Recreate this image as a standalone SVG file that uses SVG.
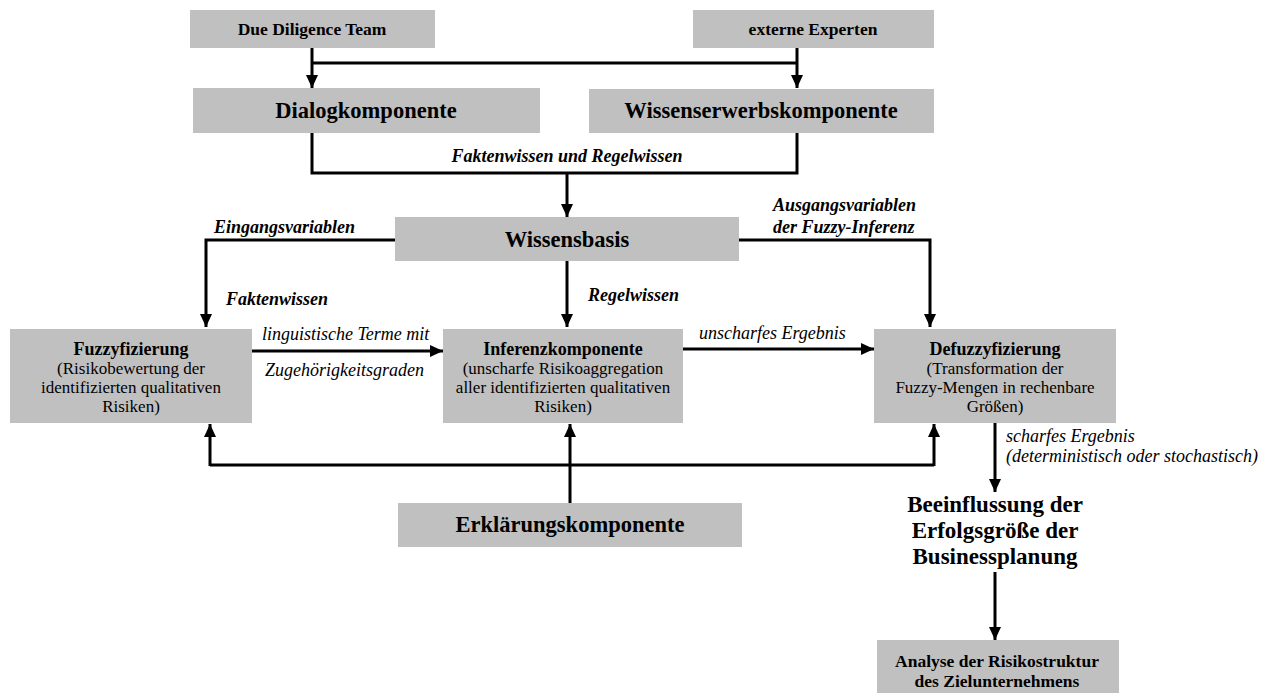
<svg xmlns="http://www.w3.org/2000/svg" width="1272" height="696" viewBox="0 0 1272 696">
<defs>
<marker id="ah" markerWidth="14" markerHeight="14" refX="13" refY="7" orient="auto" markerUnits="userSpaceOnUse">
<path d="M0,1 L13,7 L0,13 Z" fill="#000"/>
</marker>
<style>
.box{fill:#c0c0c0;}
text{font-family:"Liberation Serif","Times New Roman",serif;fill:#000;}
.sb{font-size:17.5px;font-weight:bold;text-anchor:middle;}
.bb{font-size:22.5px;font-weight:bold;text-anchor:middle;}
.bx{font-size:23px;font-weight:bold;text-anchor:middle;}
.tt{font-size:18px;font-weight:bold;text-anchor:middle;}
.rg{font-size:17px;text-anchor:middle;}
.bi{font-size:18px;font-weight:bold;font-style:italic;}
.it{font-size:18px;font-style:italic;}
.ln{fill:none;stroke:#000;stroke-width:3;}
.ar{fill:none;stroke:#000;stroke-width:3;marker-end:url(#ah);}
</style>
</defs>
<rect width="1272" height="696" fill="#fff"/>
<g id="connectors">
<path class="ar" d="M312,48 V88"/>
<path class="ln" d="M312,63 H797"/>
<path class="ar" d="M797,48 V88"/>
<path class="ln" d="M312,133 V173 H797 V133"/>
<path class="ar" d="M567,173 V217"/>
<path class="ar" d="M395,240 H206 V327"/>
<path class="ar" d="M567,261 V327"/>
<path class="ar" d="M739,240 H930 V327"/>
<path class="ar" d="M252,351 H443"/>
<path class="ar" d="M683,349 H874"/>
<path class="ar" d="M570,503 V424"/>
<path class="ln" d="M210,465 H934"/>
<path class="ar" d="M210,466 V424"/>
<path class="ar" d="M934,466 V424"/>
<path class="ar" d="M995,423 V492"/>
<path class="ar" d="M995,572 V640"/>
<text class="bi" x="567" y="162" text-anchor="middle">Faktenwissen und Regelwissen</text>
<text class="bi" x="214" y="233">Eingangsvariablen</text>
<text class="bi" x="226" y="305">Faktenwissen</text>
<text class="bi" x="588" y="301">Regelwissen</text>
<text class="bi" x="773" y="211">Ausgangsvariablen</text>
<text class="bi" x="773" y="233">der Fuzzy-Inferenz</text>
<text class="it" x="262" y="340">linguistische Terme mit</text>
<text class="it" x="265" y="376">Zugehörigkeitsgraden</text>
<text class="it" x="699" y="339">unscharfes Ergebnis</text>
<text class="it" x="1006" y="442">scharfes Ergebnis</text>
<text class="it" x="1006" y="462">(deterministisch oder stochastisch)</text>
</g>
<g id="due">
<rect class="box" x="190" y="10" width="245" height="38"/>
<text class="sb" x="312" y="35">Due Diligence Team</text>
</g>
<g id="externe">
<rect class="box" x="693" y="10" width="241" height="38"/>
<text class="sb" x="813" y="35">externe Experten</text>
</g>
<g id="dialog">
<rect class="box" x="193" y="88" width="347" height="45"/>
<text class="bb" x="366" y="118">Dialogkomponente</text>
</g>
<g id="wissenserwerb">
<rect class="box" x="589" y="89" width="345" height="44"/>
<text class="bb" x="761" y="118">Wissenserwerbskomponente</text>
</g>
<g id="wissensbasis">
<rect class="box" x="395" y="217" width="344" height="44"/>
<text class="bb" x="567" y="247">Wissensbasis</text>
</g>
<g id="fuzzy">
<rect class="box" x="10" y="329" width="242" height="94"/>
<text class="tt" x="131" y="355">Fuzzyfizierung</text>
<text class="rg" x="131" y="374">(Risikobewertung der</text>
<text class="rg" x="131" y="393">identifizierten qualitativen</text>
<text class="rg" x="131" y="412">Risiken)</text>
</g>
<g id="inferenz">
<rect class="box" x="443" y="329" width="240" height="94"/>
<text class="tt" x="563" y="355">Inferenzkomponente</text>
<text class="rg" x="563" y="374">(unscharfe Risikoaggregation</text>
<text class="rg" x="563" y="393">aller identifizierten qualitativen</text>
<text class="rg" x="563" y="412">Risiken)</text>
</g>
<g id="defuzzy">
<rect class="box" x="874" y="329" width="242" height="94"/>
<text class="tt" x="995" y="355">Defuzzyfizierung</text>
<text class="rg" x="995" y="374">(Transformation der</text>
<text class="rg" x="995" y="393">Fuzzy-Mengen in rechenbare</text>
<text class="rg" x="995" y="412">Größen)</text>
</g>
<g id="erklaerung">
<rect class="box" x="398" y="503" width="344" height="44"/>
<text class="bb" x="570" y="532">Erklärungskomponente</text>
</g>
<g id="beeinflussung">
<text class="bx" x="995" y="512">Beeinflussung der</text>
<text class="bx" x="995" y="538">Erfolgsgröße der</text>
<text class="bx" x="995" y="564">Businessplanung</text>
</g>
<g id="analyse">
<rect class="box" x="877" y="640" width="242" height="53"/>
<text class="sb" x="997" y="667">Analyse der Risikostruktur</text>
<text class="sb" x="997" y="687">des Zielunternehmens</text>
</g>
</svg>
